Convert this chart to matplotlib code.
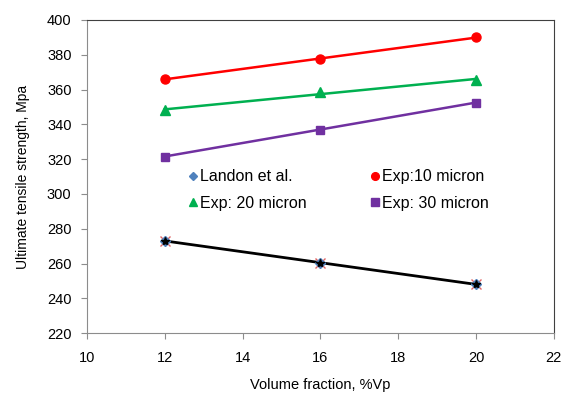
import numpy as np
import matplotlib
matplotlib.use("Agg")
import matplotlib.pyplot as plt

plt.rcParams["font.family"] = ["Liberation Sans", "DejaVu Sans"]

# Volume fraction (%Vp)
volume_fraction = [12, 16, 20]

# Ultimate tensile strength (MPa)
landon = [273, 260.5, 248]
exp_10 = [366, 377.5, 390]
exp_20 = [348, 358.5, 365.5]
exp_30 = [321.5, 337, 352.5]


def trend(x, y):
    # linear trendline like Excel
    k, b = np.polyfit(x, y, 1)
    return [k * xi + b for xi in x]


fig = plt.figure(figsize=(5.64, 3.98), dpi=100)
ax = fig.add_axes([0.154, 0.163, 0.828, 0.787])

# trendlines
ax.plot(volume_fraction, trend(volume_fraction, exp_10), color="#FF0000", lw=1.8)
ax.plot(volume_fraction, trend(volume_fraction, exp_20), color="#00B050", lw=1.8)
ax.plot(volume_fraction, trend(volume_fraction, exp_30), color="#7030A0", lw=1.8)
ax.plot(volume_fraction, trend(volume_fraction, landon), color="black", lw=2)

# markers
ax.plot(volume_fraction, landon, ls="none", marker="x", color="#E06666",
        markersize=6.5, mew=1.0)
h_landon, = ax.plot(volume_fraction, landon, ls="none", marker="D",
                    color="#4F81BD", markersize=5, label="Landon et al.")
ax.plot(volume_fraction, landon, ls="none", marker="*", color="black",
        markersize=6)
h10, = ax.plot(volume_fraction, exp_10, ls="none", marker="o", color="#FF0000",
               markersize=6.5, label="Exp:10 micron")
h20, = ax.plot(volume_fraction, exp_20, ls="none", marker="^", color="#00B050",
               markersize=6.5, label="Exp: 20 micron")
h30, = ax.plot(volume_fraction, exp_30, ls="none", marker="s", color="#7030A0",
               markersize=6, label="Exp: 30 micron")

ax.set_xlim(10, 22)
ax.set_ylim(220, 400)
ax.set_xticks(range(10, 23, 2))
ax.set_yticks(range(220, 401, 20))

for side in ["left", "bottom"]:
    ax.spines[side].set_color("#8C8C8C")
for side in ["top", "right"]:
    ax.spines[side].set_color("#404040")
ax.tick_params(direction="out", length=4, color="#8C8C8C", labelsize=10.5,
               pad=7)
ax.tick_params(axis="x", pad=9)

ax.set_xlabel("Volume fraction, %Vp", fontsize=10.5, labelpad=9)
ax.set_ylabel("Ultimate tensile strength, Mpa", fontsize=10, labelpad=12)

# row-major order like the original legend
ax.legend([h_landon, h20, h10, h30],
          ["Landon et al.", "Exp: 20 micron", "Exp:10 micron", "Exp: 30 micron"],
          ncol=2, frameon=False, fontsize=11.5, loc="center",
          bbox_to_anchor=(0.54, 0.457), handlelength=0.5, handletextpad=0.2,
          columnspacing=4.0, labelspacing=0.7, markerscale=0.85)

fig.savefig("out.png", dpi=100)
